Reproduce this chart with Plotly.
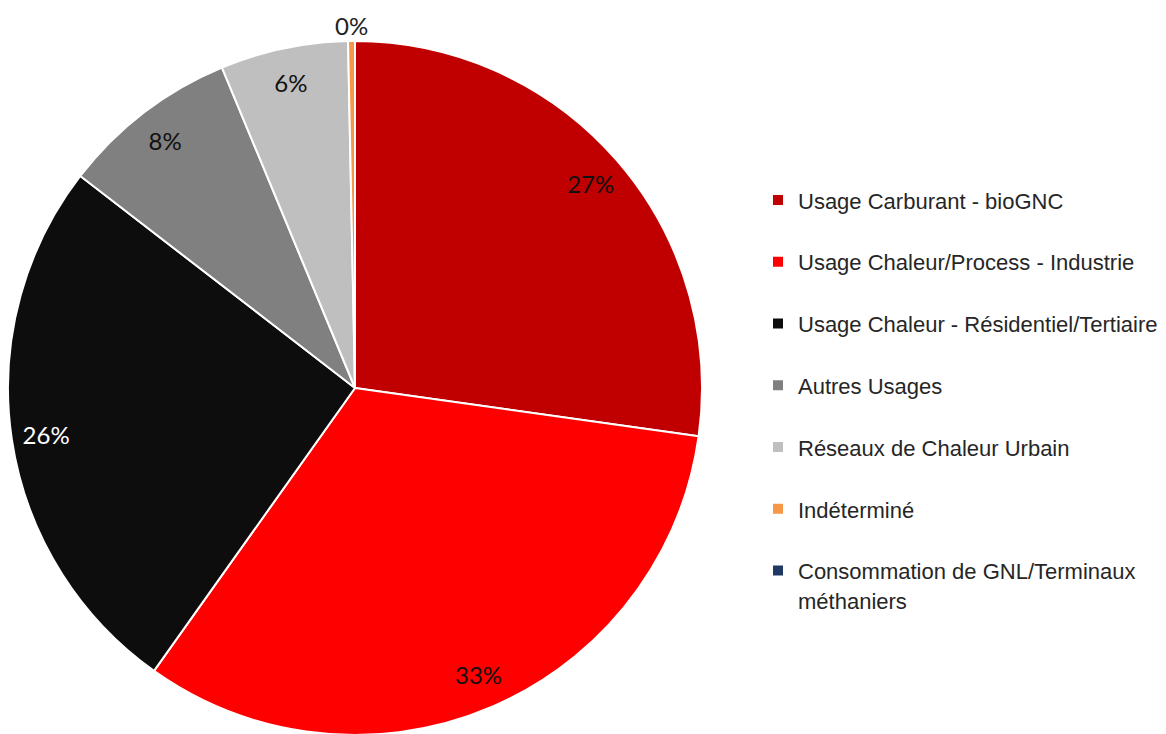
import math
import plotly.graph_objects as go

categories = [
    "Usage Carburant - bioGNC",
    "Usage Chaleur/Process - Industrie",
    "Usage Chaleur - Résidentiel/Tertiaire",
    "Autres Usages",
    "Réseaux de Chaleur Urbain",
    "Indéterminé",
    "Consommation de GNL/Terminaux<br>méthaniers",
]
values = [27.3, 32.7, 25.7, 8.3, 5.96, 0.32, 0.0]
colors = ["#C00000", "#FF0000", "#0D0D0D", "#808080", "#BFBFBF", "#F79646", "#1F3864"]
label_colors = ["#111111", "#111111", "#FFFFFF", "#111111", "#111111", "#222222", "#222222"]

W, H = 1166, 734
# page body has an 8px margin: coordinates below are in figure (paper) pixels
cx, cy, R = 347, 380, 347
dom_x = [(cx - R) / W, (cx + R) / W]
dom_y = [(H - cy - R) / H, (H - cy + R) / H]

legend_labels = []
for c in categories:
    parts = c.split("<br>")
    spans = "<br>".join(f"<span style='font-size:22px'>{p}</span>" for p in parts)
    if len(parts) == 1:
        spans += "<br> "
    legend_labels.append(spans)

fig = go.Figure()
fig.add_trace(go.Pie(
    labels=legend_labels,
    values=values,
    sort=False,
    direction="clockwise",
    rotation=0,
    marker=dict(colors=colors, line=dict(color="white", width=2)),
    textinfo="none",
    hoverinfo="skip",
    domain=dict(x=dom_x, y=dom_y),
    showlegend=True,
))
text_pos = ["inside"] * 5 + ["none", "none"]
fig.add_trace(go.Pie(
    labels=legend_labels,
    values=values,
    sort=False,
    direction="clockwise",
    rotation=0,
    hole=0.8,
    marker=dict(colors=["rgba(0,0,0,0)"] * len(values), line=dict(width=0)),
    texttemplate="%{percent:.0%}",
    textposition=text_pos,
    insidetextorientation="horizontal",
    insidetextfont=dict(family="Lato", size=24, color=label_colors),
    hoverinfo="skip",
    domain=dict(x=dom_x, y=dom_y),
    showlegend=False,
))

# label for the tiny slice, placed just outside the pie at its mid-angle
total = sum(values)
cum = sum(values[:5])
mid_deg = (cum + values[5] / 2) / total * 360
rr = R + 16
px = cx + rr * math.sin(math.radians(mid_deg))
py = cy - rr * math.cos(math.radians(mid_deg))
pct = values[5] / total
fig.add_annotation(
    x=px / W, y=1 - py / H, xref="paper", yref="paper",
    text=f"{pct:.0%}", showarrow=False, xanchor="center", yanchor="middle",
    borderpad=0,
    font=dict(family="Lato", size=24, color="#222222"),
)

fig.update_layout(
    width=W, height=H,
    margin=dict(l=0, r=0, t=0, b=0),
    paper_bgcolor="white",
    plot_bgcolor="white",
    font=dict(family="Liberation Sans, Arial, sans-serif", color="#262626"),
    legend=dict(
        x=750 / W, xanchor="left",
        y=1 - 170.7 / H, yanchor="top",
        font=dict(size=22.6, color="#262626", family="Liberation Sans, Arial, sans-serif"),
        valign="top",
        traceorder="normal",
        bgcolor="rgba(0,0,0,0)",
    ),
)

fig.write_html("out.html")
